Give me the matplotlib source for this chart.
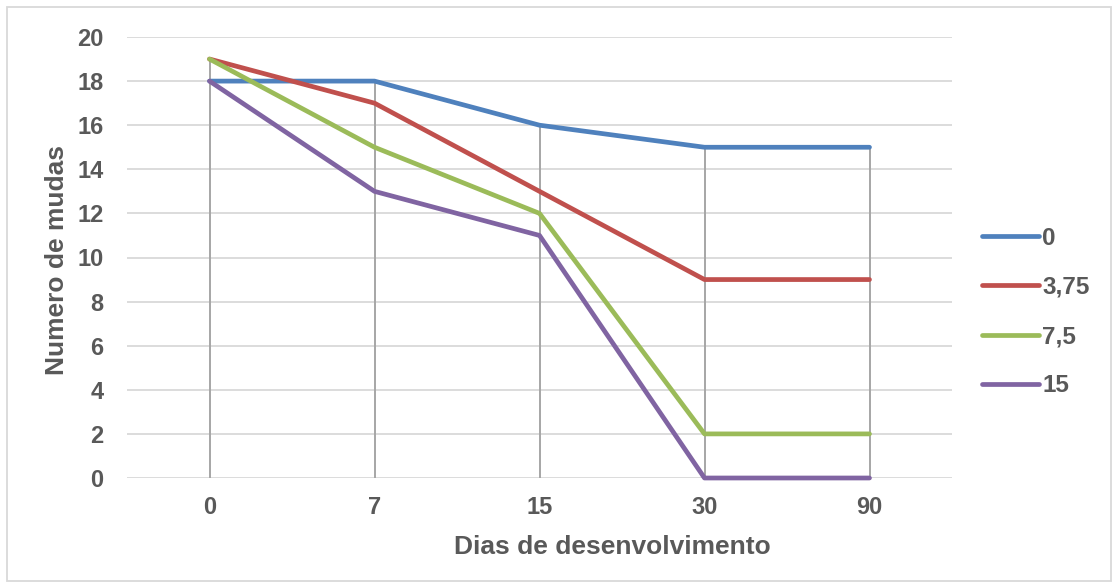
import matplotlib
matplotlib.use("Agg")
import matplotlib.pyplot as plt
from matplotlib.patches import Rectangle
import numpy as np

categories = ["0", "7", "15", "30", "90"]
series_names = ["0", "3,75", "7,5", "15"]
s_0 = [18, 18, 16, 15, 15]
s_375 = [19, 17, 13, 9, 9]
s_75 = [19, 15, 12, 2, 2]
s_15 = [18, 13, 11, 0, 0]
colors = ["#4F81BD", "#C0504D", "#9BBB59", "#8064A2"]

plt.rcParams['font.family'] = ['Liberation Sans', 'DejaVu Sans']
plt.rcParams['font.weight'] = 'bold'
txt = "#595959"

W, H = 1118, 588
fig = plt.figure(figsize=(W/100, H/100), dpi=100)
ax = fig.add_axes([127/W, 1-478/H, (952-127)/W, (478-37)/H])

x = np.arange(len(categories))
data = [s_0, s_375, s_75, s_15]

ax.set_xlim(-0.5, len(categories)-0.5)
ax.set_ylim(0, 20)
ax.set_yticks(range(0, 21, 2))
for yv in range(0, 21, 2):
    ax.axhline(yv, color="#D9D9D9", lw=1.3, zorder=1)

# drop lines
tops = np.max(np.array(data), axis=0)
ax.vlines(x, 0, tops, color="#A6A6A6", lw=1.4, zorder=2)

for vals, c, n in zip(data, colors, series_names):
    ax.plot(x, vals, color=c, lw=3.4, label=n, zorder=3, clip_on=False,
            solid_capstyle='round', solid_joinstyle='round')

ax.set_xticks(x)
ax.set_xticklabels(categories)
for s in ax.spines.values():
    s.set_visible(False)
ax.tick_params(length=0, labelsize=17, labelcolor=txt, pad=0)
ax.tick_params(axis='x', pad=13)
ax.tick_params(axis='y', pad=17)
for lab in ax.get_xticklabels() + ax.get_yticklabels():
    lab.set_fontweight('bold')

fig.text(612/W, 1-547/H, "Dias de desenvolvimento", fontsize=19, color=txt, fontweight='bold',
         ha='center', va='center')
fig.text(57/W, 1-260/H, "Numero de mudas", fontsize=19, color=txt, fontweight='bold',
         ha='center', va='center', rotation=90)

leg = ax.legend(loc='center left', bbox_to_anchor=(982/W, 1-312/H), bbox_transform=fig.transFigure,
                frameon=False, fontsize=17.5, handlelength=2.35, handletextpad=0.12,
                labelspacing=1.08, borderaxespad=0, borderpad=0)
for t in leg.get_texts():
    t.set_color(txt)
    t.set_fontweight('bold')

fig.patches.append(Rectangle((7/W, 7/H), (1111-7)/W, (581-7)/H, transform=fig.transFigure,
                             fill=False, edgecolor="#D9D9D9", lw=1.3))

fig.savefig("out.png", dpi=100)
